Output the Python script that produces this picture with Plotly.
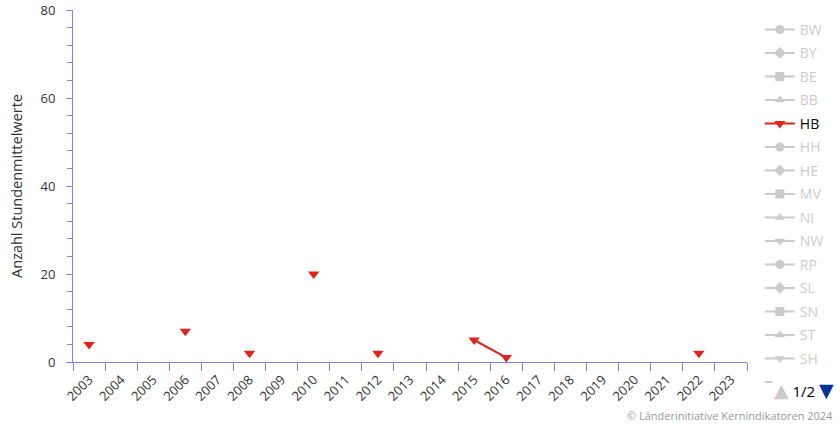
import plotly.graph_objects as go

years = [str(y) for y in range(2003, 2024)]
hb_values = [4, None, None, 7, None, 2, None, 20, None, 2, None, None, 5, 1, None, None, None, None, None, 2, None]
states = ["BW", "BY", "BE", "BB", "HB", "HH", "HE", "MV", "NI", "NW", "RP", "SL", "SN", "ST", "SH", "TH"]
symbols = ["circle", "diamond", "square", "triangle-up", "triangle-down"]

RED = "#e2231a"
AXIS = "#8080ee"

fig = go.Figure()
for i, st in enumerate(states):
    sym = symbols[i % 5]
    if st == "HB":
        fig.add_trace(go.Scatter(
            x=years, y=hb_values, name=st, mode="lines+markers",
            line=dict(color=RED, width=2), connectgaps=False,
            marker=dict(symbol=sym, size=10, color=RED),
            legendgroup=st,
        ))
    else:
        fig.add_trace(go.Scatter(
            x=years, y=[None] * len(years),
            name=f"<span style='color:#999999'>{st}</span>",
            mode="lines+markers", visible="legendonly",
            line=dict(color="#999999", width=2),
            marker=dict(symbol=sym, size=9, color="#999999"),
            legendgroup=st,
        ))

fig.update_layout(
    width=840, height=424,
    margin=dict(l=73, r=93, t=10, b=62, autoexpand=False),
    paper_bgcolor="white", plot_bgcolor="white",
    font=dict(family="Open Sans, DejaVu Sans, sans-serif", color="#333333"),
    showlegend=True,
    legend=dict(
        x=1.019, xanchor="left", y=0.989, yanchor="top", xref="paper",
        font=dict(size=14, color="#000000"),
        tracegroupgap=2.3, itemwidth=30,
        bgcolor="rgba(0,0,0,0)",
        maxheight=420,
    ),
    xaxis=dict(
        type="category", categoryorder="array", categoryarray=years,
        range=[-0.5, len(years) - 0.5], automargin=False,
        showgrid=False, zeroline=False,
        showline=True, linecolor=AXIS, linewidth=1,
        ticks="outside", tickcolor=AXIS, ticklen=8, tickson="boundaries",
        tickangle=-45, tickfont=dict(size=13, color="#333333"),
        ticklabelstandoff=4,
    ),
    yaxis=dict(
        range=[0, 80], dtick=20, showgrid=False, zeroline=False, automargin=False,
        showline=True, linecolor=AXIS, linewidth=1,
        ticks="outside", tickcolor=AXIS, ticklen=6,
        minor=dict(dtick=4, ticks="outside", ticklen=5, tickcolor=AXIS),
        tickfont=dict(size=13, color="#333333"),
        ticklabelstandoff=8,
        title=dict(text="Anzahl Stundenmittelwerte", font=dict(size=14.5, color="#333333"), standoff=14),
    ),
)

fig.add_annotation(
    xref="paper", yref="paper", x=1.037, y=-0.0795, xanchor="left", yanchor="middle",
    showarrow=False,
    text="<span style='color:#cccccc;font-size:19px'>▲</span><span style='color:#000000'> 1/2 </span><span style='color:#003399;font-size:19px'>▼</span>",
    font=dict(size=15),
    bgcolor="white",
)
fig.add_annotation(
    xref="paper", yref="paper", x=1.1306, y=-0.153, xanchor="right", yanchor="middle",
    showarrow=False, text="© Länderinitiative Kernindikatoren 2024",
    font=dict(size=11, color="#999999"),
)

fig.write_html("out.html", config={"displayModeBar": False},
               post_script="document.body.style.margin='0px';")
